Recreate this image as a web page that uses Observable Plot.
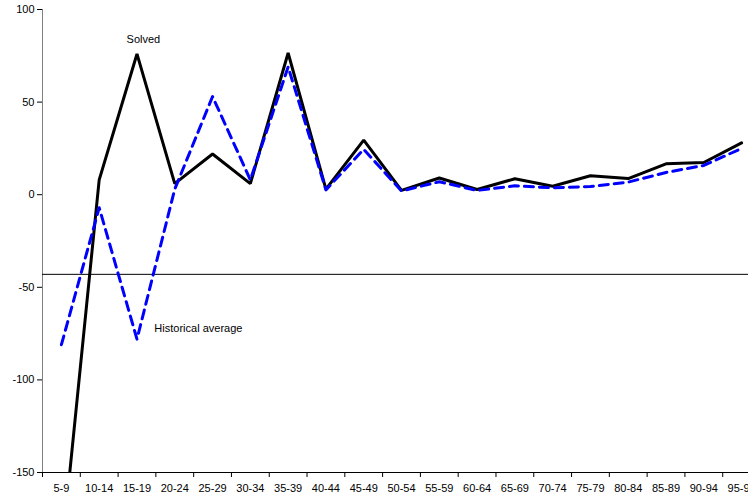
<!DOCTYPE html>
<html>
<head>
<meta charset="utf-8">
<script src="https://cdn.jsdelivr.net/npm/d3@7"></script>
<script src="https://cdn.jsdelivr.net/npm/@observablehq/plot@0.6"></script>
<style>
  html, body { margin: 0; padding: 0; background: #fff; overflow: hidden; width: 748px; height: 496px; }
  #chart svg { display: block; max-width: none !important; }
</style>
</head>
<body>
<div id="chart"></div>
<script>
const ageGroups = ["5-9","10-14","15-19","20-24","25-29","30-34","35-39","40-44","45-49","50-54","55-59","60-64","65-69","70-74","75-79","80-84","85-89","90-94","95-99"];
const solved = [-195, 8, 76, 6, 22, 6, 76.5, 3, 29.5, 2.3, 9, 2.8, 8.6, 4.6, 10.2, 8.7, 16.7, 17.4, 28];
const historical = [-81, -7, -78, 3, 53, 8, 69, 2.6, 24.5, 2, 7, 2.3, 4.8, 3.7, 4.4, 6.8, 12, 15.8, 25];
const baseline = -43;
const yTicks = [100, 50, 0, -50, -100, -150];
const labels = [
  {text: "Solved", group: 2.17, value: 84, anchor: "middle"},
  {text: "Historical average", group: 2.46, value: -72, anchor: "start"}
];

const solvedData = ageGroups.map((g, i) => ({i: i + 0.5, v: solved[i]}));
const histData = ageGroups.map((g, i) => ({i: i + 0.5, v: historical[i]}));
const font = "Liberation Sans, Arial, sans-serif";

const chart = Plot.plot({
  width: 762,
  height: 496,
  marginLeft: 42,
  marginRight: 2,
  marginTop: 9,
  marginBottom: 24,
  style: {fontFamily: font, fontSize: "11px", color: "#000", background: "#fff", maxWidth: "none"},
  x: {domain: [0, ageGroups.length]},
  y: {domain: [-150, 100]},
  marks: [
    Plot.axisY({ticks: yTicks, tickFormat: d => String(d), tickSize: 5, tickPadding: 3, label: null, fontSize: 11}),
    Plot.axisX({ticks: d3.range(ageGroups.length + 1), tickFormat: () => "", tickSize: 5, label: null}),
    Plot.axisX({ticks: ageGroups.map((g, i) => i + 0.5), tickFormat: d => ageGroups[Math.floor(d)], tickSize: 0, tickPadding: 12, label: null, fontSize: 11}),
    Plot.ruleX([0], {stroke: "#808080", strokeWidth: 1}),
    Plot.ruleY([-150], {stroke: "#000", strokeWidth: 1}),
    Plot.ruleY([baseline], {stroke: "#000", strokeWidth: 1}),
    Plot.line(solvedData, {x: "i", y: "v", stroke: "#000", strokeWidth: 3, clip: true, strokeLinejoin: "miter"}),
    Plot.line(histData, {x: "i", y: "v", stroke: "#0000ff", strokeWidth: 3, strokeDasharray: "9,6", clip: true}),
    Plot.text(labels.filter(d => d.anchor === "middle"), {x: d => d.group + 0.5, y: "value", text: "text", textAnchor: "middle", fontSize: 11, fill: "#000"}),
    Plot.text(labels.filter(d => d.anchor === "start"), {x: d => d.group + 0.5, y: "value", text: "text", textAnchor: "start", fontSize: 11, fill: "#000"})
  ]
});
document.getElementById("chart").appendChild(chart);
</script>
</body>
</html>
